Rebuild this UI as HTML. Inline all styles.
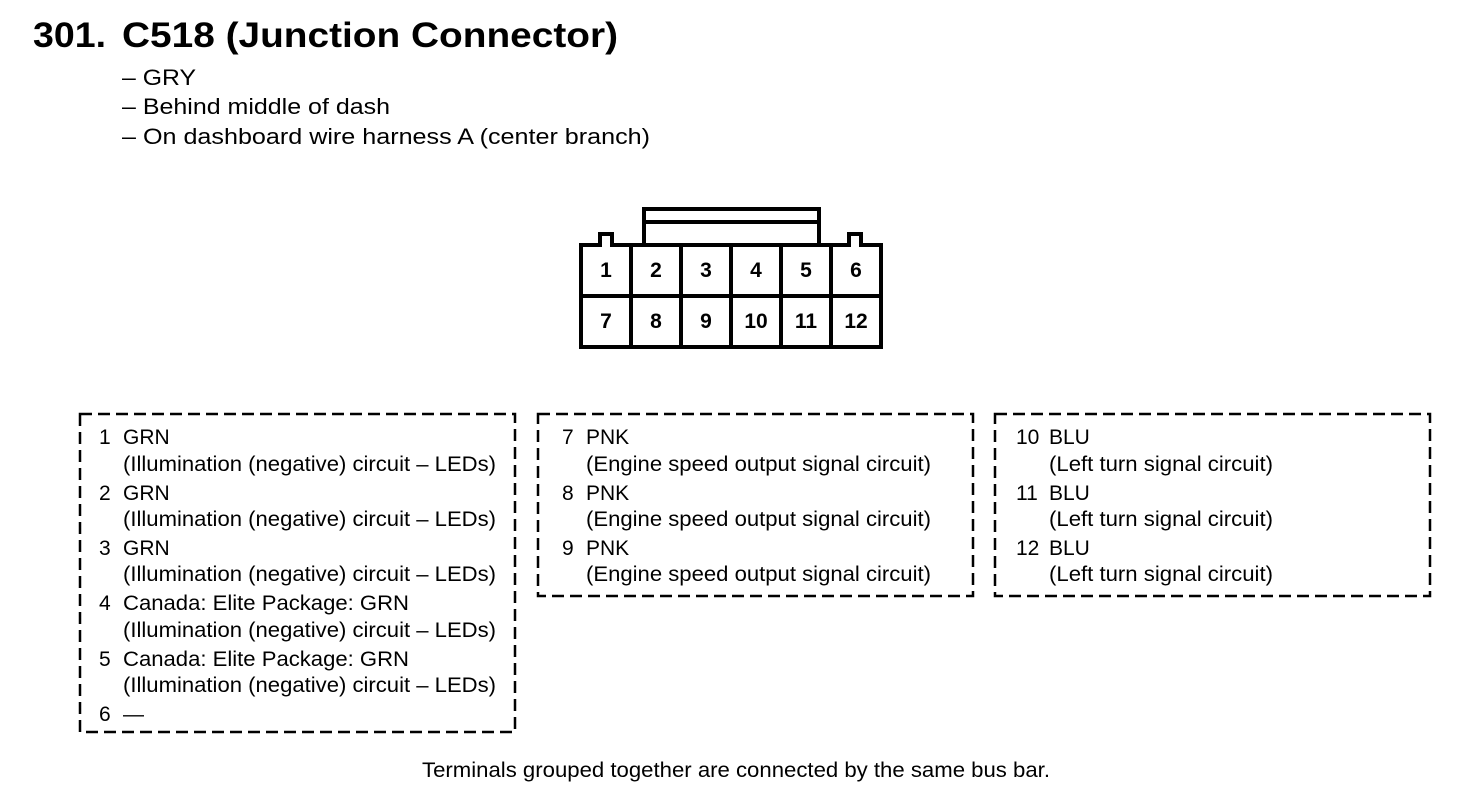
<!DOCTYPE html>
<html><head><meta charset="utf-8"><style>
html,body{margin:0;padding:0;background:#fff;}
svg{display:block;}
text{font-family:"Liberation Sans",Arial,sans-serif;fill:#000;}
</style></head><body>
<svg width="1472" height="806" viewBox="0 0 1472 806" xmlns="http://www.w3.org/2000/svg">
<text x="33" y="47" font-size="35" font-weight="bold" textLength="73" lengthAdjust="spacingAndGlyphs">301.</text>
<text x="122" y="47" font-size="35" font-weight="bold" textLength="496" lengthAdjust="spacingAndGlyphs">C518 (Junction Connector)</text>
<g font-size="22">
<text x="122" y="85" textLength="74" lengthAdjust="spacingAndGlyphs">– GRY</text>
<text x="122" y="114" textLength="268" lengthAdjust="spacingAndGlyphs">– Behind middle of dash</text>
<text x="122" y="144" textLength="528" lengthAdjust="spacingAndGlyphs">– On dashboard wire harness A (center branch)</text>
</g>
<!-- connector -->
<g fill="none" stroke="#000" stroke-width="4">
<rect x="644" y="209" width="175" height="36"/>
<line x1="644" y1="222" x2="819" y2="222"/>
<path d="M581 347 V245 H600 V234 H612 V245 H849 V234 H861 V245 H881 V347 Z" fill="#fff"/>
<line x1="581" y1="296" x2="881" y2="296"/>
<line x1="631" y1="245" x2="631" y2="347"/>
<line x1="681" y1="245" x2="681" y2="347"/>
<line x1="731" y1="245" x2="731" y2="347"/>
<line x1="781" y1="245" x2="781" y2="347"/>
<line x1="831" y1="245" x2="831" y2="347"/>
</g>
<g font-size="21" font-weight="bold" text-anchor="middle">
<text x="606" y="277">1</text><text x="656" y="277">2</text><text x="706" y="277">3</text><text x="756" y="277">4</text><text x="806" y="277">5</text><text x="856" y="277">6</text>
<text x="606" y="328">7</text><text x="656" y="328">8</text><text x="706" y="328">9</text><text x="756" y="328">10</text><text x="806" y="328">11</text><text x="856" y="328">12</text>
</g>
<!-- boxes -->
<g fill="none" stroke="#000" stroke-width="2.5" stroke-dasharray="12 6">
<rect x="80" y="414" width="435" height="318"/>
<rect x="538" y="414" width="435" height="182"/>
<rect x="995" y="414" width="435" height="182"/>
</g>
<g font-size="21">
<text x="99" y="444">1</text><text x="123" y="444">GRN</text>
<text x="123" y="471" textLength="373" lengthAdjust="spacingAndGlyphs">(Illumination (negative) circuit – LEDs)</text>
<text x="99" y="500">2</text><text x="123" y="500">GRN</text>
<text x="123" y="526" textLength="373" lengthAdjust="spacingAndGlyphs">(Illumination (negative) circuit – LEDs)</text>
<text x="99" y="555">3</text><text x="123" y="555">GRN</text>
<text x="123" y="581" textLength="373" lengthAdjust="spacingAndGlyphs">(Illumination (negative) circuit – LEDs)</text>
<text x="99" y="610">4</text><text x="123" y="610" textLength="286" lengthAdjust="spacingAndGlyphs">Canada: Elite Package: GRN</text>
<text x="123" y="637" textLength="373" lengthAdjust="spacingAndGlyphs">(Illumination (negative) circuit – LEDs)</text>
<text x="99" y="666">5</text><text x="123" y="666" textLength="286" lengthAdjust="spacingAndGlyphs">Canada: Elite Package: GRN</text>
<text x="123" y="692" textLength="373" lengthAdjust="spacingAndGlyphs">(Illumination (negative) circuit – LEDs)</text>
<text x="99" y="721">6</text><text x="123" y="721">—</text>

<text x="562" y="444">7</text><text x="586" y="444">PNK</text>
<text x="586" y="471" textLength="345" lengthAdjust="spacingAndGlyphs">(Engine speed output signal circuit)</text>
<text x="562" y="500">8</text><text x="586" y="500">PNK</text>
<text x="586" y="526" textLength="345" lengthAdjust="spacingAndGlyphs">(Engine speed output signal circuit)</text>
<text x="562" y="555">9</text><text x="586" y="555">PNK</text>
<text x="586" y="581" textLength="345" lengthAdjust="spacingAndGlyphs">(Engine speed output signal circuit)</text>

<text x="1016" y="444">10</text><text x="1049" y="444">BLU</text>
<text x="1049" y="471" textLength="224" lengthAdjust="spacingAndGlyphs">(Left turn signal circuit)</text>
<text x="1016" y="500">11</text><text x="1049" y="500">BLU</text>
<text x="1049" y="526" textLength="224" lengthAdjust="spacingAndGlyphs">(Left turn signal circuit)</text>
<text x="1016" y="555">12</text><text x="1049" y="555">BLU</text>
<text x="1049" y="581" textLength="224" lengthAdjust="spacingAndGlyphs">(Left turn signal circuit)</text>

<text x="422" y="777" textLength="628" lengthAdjust="spacingAndGlyphs">Terminals grouped together are connected by the same bus bar.</text>
</g>
</svg>
</body></html>
